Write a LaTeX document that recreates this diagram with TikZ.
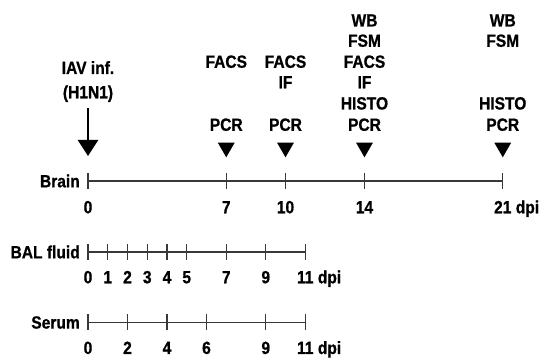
\documentclass[tikz,border=0pt]{standalone}
\usepackage{fontspec}
\newfontfamily\lblfont[FakeStretch=0.88,FakeBold=0.8]{Liberation Sans Bold}
\usetikzlibrary{arrows.meta,shapes.geometric}
\begin{document}
\begin{tikzpicture}[x=1pt,y=-1pt,
  lbl/.style={font=\lblfont\fontsize{17.7}{20.7}\selectfont, inner sep=0pt, text=black},
  axisline/.style={draw=black!78, line width=1.3pt},
  marker/.style={regular polygon, regular polygon sides=3, shape border rotate=180,
                 minimum size=19.6pt, inner sep=0pt, fill=black},
  infarrow/.style={line width=2.6pt, -{Triangle[width=20pt,length=16pt]}}
]
\useasboundingbox (0,0) rectangle (542,358);
% one day on every axis
\def\dx{19.75}
\def\xo{88}

% ---------- Brain axis ----------
\coordinate (bstart) at (\xo,181);
\coordinate (bend) at (\xo+21*\dx,181);
\draw[axisline] (bstart) -- (bend);
\foreach \d in {0,7,10,14,21}{
  \coordinate (bt\d) at (\xo+\d*\dx,181);
  \draw[axisline] (bt\d) ++(0,-8) -- ++(0,16);
  \node[lbl, anchor=base] (bn\d) at (\xo+\d*\dx,213.3) {\d};
}
\node[lbl, anchor=base west] (bdpi) at ([xshift=4pt]bn21.base east) {dpi};
\node[lbl, anchor=east] (brain) at (80,181) {Brain};

% ---------- BAL fluid axis ----------
\coordinate (lstart) at (\xo,252);
\coordinate (lend) at (\xo+11*\dx,252);
\draw[axisline] (lstart) -- (lend);
\foreach \d in {0,1,2,3,4,5,7,9,11}{
  \coordinate (lt\d) at (\xo+\d*\dx,252);
  \draw[axisline] (lt\d) ++(0,-8) -- ++(0,16);
  \node[lbl, anchor=base] (ln\d) at (\xo+\d*\dx,283.3) {\d};
}
\node[lbl, anchor=base west] (ldpi) at ([xshift=4pt]ln11.base east) {dpi};
\node[lbl, anchor=east] (bal) at (80,252) {BAL fluid};

% ---------- Serum axis ----------
\coordinate (sstart) at (\xo,322.5);
\coordinate (send) at (\xo+11*\dx,322.5);
\draw[axisline] (sstart) -- (send);
\foreach \d in {0,2,4,6,9,11}{
  \coordinate (st\d) at (\xo+\d*\dx,322.5);
  \draw[axisline] (st\d) ++(0,-8) -- ++(0,16);
  \node[lbl, anchor=base] (sn\d) at (\xo+\d*\dx,354) {\d};
}
\node[lbl, anchor=base west] (sdpi) at ([xshift=4pt]sn11.base east) {dpi};
\node[lbl, anchor=east] (serum) at (80,322.5) {Serum};

% ---------- infection ----------
\node[lbl, anchor=base] (iav) at (\xo,74) {IAV inf.};
\node[lbl, anchor=base] (h1n1) at (\xo,98.3) {(H1N1)};
\coordinate (inftop) at (\xo,108);
\coordinate (inftip) at (\xo,156);
\draw[infarrow] (inftop) -- (inftip);

% ---------- sampling days ----------
\foreach \d in {7,10,14,21}{
  \node[marker] (m\d) at (\xo+\d*\dx,147.5) {};
  \node[lbl, anchor=base] (pcr\d) at (\xo+\d*\dx,130.8) {PCR};
}
\node[lbl, anchor=base] (facs7) at (\xo+7*\dx,67.8) {FACS};

\node[lbl, anchor=base] (facs10) at (\xo+10*\dx,67.8) {FACS};
\node[lbl, anchor=base] (if10) at (\xo+10*\dx,88.3) {IF};

\node[lbl, anchor=base] (wb14) at (\xo+14*\dx,26.5) {WB};
\node[lbl, anchor=base] (fsm14) at (\xo+14*\dx,46.8) {FSM};
\node[lbl, anchor=base] (facs14) at (\xo+14*\dx,67.8) {FACS};
\node[lbl, anchor=base] (if14) at (\xo+14*\dx,88.3) {IF};
\node[lbl, anchor=base] (histo14) at (\xo+14*\dx,109.5) {HISTO};

\node[lbl, anchor=base] (wb21) at (\xo+21*\dx,26.5) {WB};
\node[lbl, anchor=base] (fsm21) at (\xo+21*\dx,46.8) {FSM};
\node[lbl, anchor=base] (histo21) at (\xo+21*\dx,109.5) {HISTO};
\end{tikzpicture}
\end{document}
